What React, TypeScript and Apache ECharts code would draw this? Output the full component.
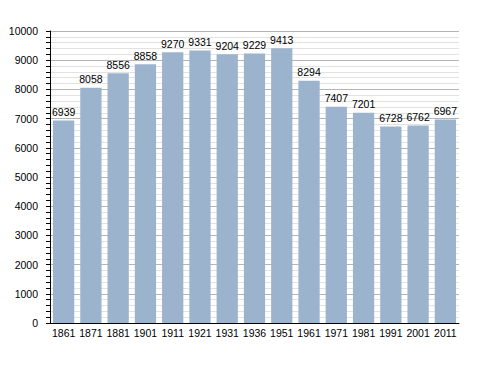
import React, { useEffect, useRef } from "react";
import * as echarts from "echarts";

const categories = ["1861", "1871", "1881", "1901", "1911", "1921", "1931", "1936", "1951", "1961", "1971", "1981", "1991", "2001", "2011"];
const population = [6939, 8058, 8556, 8858, 9270, 9331, 9204, 9229, 9413, 8294, 7407, 7201, 6728, 6762, 6967];

export default function App() {
  const ref = useRef<HTMLDivElement>(null);
  useEffect(() => {
    document.body.style.margin = "0";
    if (!ref.current) return;
    const chart = echarts.init(ref.current, null, { renderer: "svg" });
    chart.setOption({
      animation: false,
      grid: { left: 50, right: 29, top: 31, bottom: 50 },
      xAxis: {
        type: "category",
        data: categories,
        axisLine: { lineStyle: { color: "#000", width: 1 } },
        axisTick: { show: false },
        axisLabel: { color: "#000", fontSize: 10.5, fontFamily: "Liberation Sans", margin: 4, interval: 0 },
      },
      yAxis: {
        type: "value",
        min: 0,
        max: 10000,
        interval: 1000,
        axisLine: { show: true, lineStyle: { color: "#000" } },
        axisTick: { show: true, length: 4, lineStyle: { color: "#000" } },
        minorTick: { show: true, splitNumber: 5, length: 4, lineStyle: { color: "#000" } },
        axisLabel: {
          color: "#000",
          fontSize: 10.5,
          fontFamily: "Liberation Sans",
          margin: 12,
          formatter: (v: number) => String(v),
        },
        splitLine: { show: true, lineStyle: { color: "#b4b4b4", width: 1 } },
        minorSplitLine: { show: true, lineStyle: { color: "#e2e2e2", width: 1 } },
      },
      series: [
        {
          type: "bar",
          data: population,
          barCategoryGap: "22%",
          itemStyle: { color: "#9bb3cd" },
          label: {
            show: true,
            position: "top",
            distance: 3,
            color: "#000",
            fontSize: 10.5,
            fontFamily: "Liberation Sans",
            formatter: (p: any) => String(p.value),
          },
        },
      ],
    });
    return () => chart.dispose();
  }, []);
  return <div ref={ref} style={{ width: 488, height: 373 }} />;
}
